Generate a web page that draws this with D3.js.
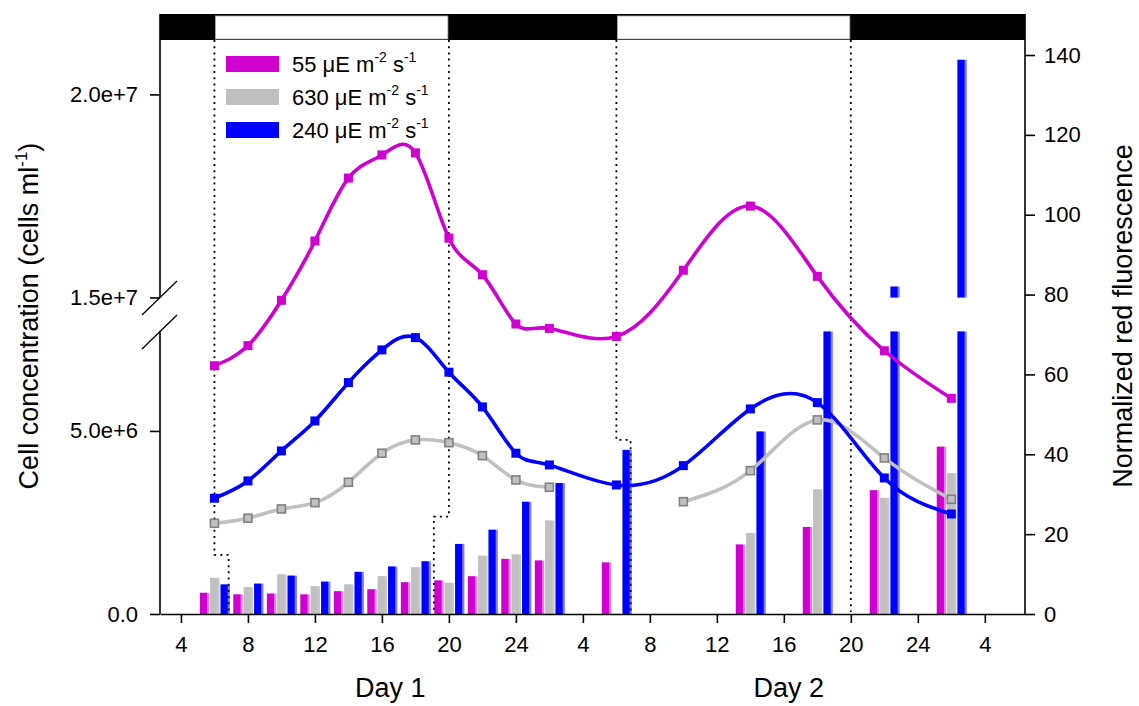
<!DOCTYPE html>
<html><head><meta charset="utf-8">
<script src="https://cdn.jsdelivr.net/npm/d3@7"></script>
<style>body{margin:0;background:#fff} text{font-family:Arial,"Liberation Sans",sans-serif;fill:#000}</style>
</head><body><svg id="c" width="1139" height="706"></svg>
<script>
// ---------- data ----------
const hours   = [6,8,10,12,14,16,18,20,22,24,26,30,34,38,42,46,50];
const cell55  = [6.78e6,7.33e6,1.493e7,1.639e7,1.794e7,1.851e7,1.856e7,1.646e7,1.556e7,7.92e6,7.80e6,7.58e6,1.567e7,1.725e7,1.552e7,7.19e6,5.89e6];
const cell630 = [2.478e6,2.615e6,2.869e6,3.041e6,3.598e6,4.391e6,4.754e6,4.680e6,4.325e6,3.661e6,3.462e6,null,3.068e6,3.915e6,5.301e6,4.262e6,3.134e6];
const cell240 = [3.161e6,3.634e6,4.454e6,5.273e6,6.320e6,7.213e6,7.549e6,6.604e6,5.656e6,4.391e6,4.071e6,3.525e6,4.052e6,5.601e6,5.773e6,3.716e6,2.732e6];

const barHours = [6,8,10,12,14,16,18,20,22,24,26,30,38,42,46,50];
const fluor55  = [5.3,4.9,5.1,4.9,5.7,6.2,7.95,8.4,9.45,13.8,13.4,12.9,17.4,21.8,31,41.9];
const fluor630 = [9.05,6.7,9.9,6.95,7.4,9.45,11.7,7.8,14.6,14.9,23.4,null,20.25,31.2,29.1,35.25];
const fluor240 = [7.4,7.6,9.6,8.1,10.55,11.9,13.2,17.55,21.1,28.1,32.8,41.1,45.7,75,82,138.8];

const seriesNames  = ["55","630","240"];
const seriesColors = ["#d000d0","#c0c0c0","#0000ff"];
const seriesEdge   = ["#e47ce4","#c8c8c8","#8080ff"];

const xTickHours  = [4,8,12,16,20,24,28,32,36,40,44,48,52];
const xTickLabels = ["4","8","12","16","20","24","4","8","12","16","20","24","4"];
const yLTicks     = [0,5e6,1.5e7,2e7];
const yLTickLabels= ["0.0","5.0e+6","1.5e+7","2.0e+7"];
const yRTicks     = [0,20,40,60,80,100,120,140];
const yLBreak     = [8.18e6,1.458e7];  // axis break: lower top / upper bottom
const lightOn  = [6,30];
const lightOff = [20,44];
const dayNames   = ["Day 1","Day 2"];
const dayCenters = [16.5,40.3];
// dotted light-transition guides: [hour, right-axis value] (null = plot top)
const guides = [
  [[6,null],[6,14.8],[6.85,14.8],[6.85,0]],
  [[20,null],[20,24.4],[19.1,24.4],[19.1,0]],
  [[30,null],[30,43.6],[30.85,43.6],[30.85,0]],
  [[44,null],[44,0.5]]
];

// ---------- layout ----------
const L=160,R=1025,T=40,B=614,barTop=14;
const FONT='Arial, Liberation Sans, sans-serif';
const svg=d3.select('#c');
const x=d3.scaleLinear().domain([2.75,54.4]).range([L,R]);
const yL=d3.scaleLinear().domain([0,yLBreak[0],yLBreak[1],2.134e7]).range([B,314.5,314.5,T]);
const yR=d3.scaleLinear().domain([0,140]).range([B,55]);
const gapLoPx=331.5, gapHiPx=297.5;
const gapLo=yR.invert(gapLoPx), gapHi=yR.invert(gapHiPx);

// light/dark bar
svg.append('rect').attr('x',L).attr('y',barTop).attr('width',R-L).attr('height',T-barTop).attr('fill','#000');
lightOn.forEach((s,i)=>{
  svg.append('rect').attr('x',x(s)+1).attr('y',barTop+2).attr('width',x(lightOff[i])-x(s)-2).attr('height',T-barTop-3)
    .attr('fill','#fff').attr('stroke','#aaa').attr('stroke-width',0.8);
});

// bars
const sub=d3.scaleBand().domain(seriesNames).range([-14.5,15.5]).paddingInner(0.1);
const fl=[fluor55,fluor630,fluor240];
const gBars=svg.append('g');
fl.forEach((arr,si)=>{
  barHours.forEach((h,i)=>{
    const v=arr[i]; if(v==null) return;
    const x0=x(h)+sub(seriesNames[si]), w=sub.bandwidth();
    const pieces=[];
    if(v<=gapLo) pieces.push([0,v]);
    else { pieces.push([0,gapLo]); if(v>gapHi) pieces.push([gapHi,v]); }
    pieces.forEach(([a,b])=>{
      gBars.append('rect').attr('x',x0).attr('y',yR(b)).attr('width',w).attr('height',yR(a)-yR(b)).attr('fill',seriesEdge[si]);
      gBars.append('rect').attr('x',x0).attr('y',yR(b)).attr('width',w-2.2).attr('height',yR(a)-yR(b)).attr('fill',seriesColors[si]);
    });
  });
});

// dotted guides
guides.forEach(g=>{
  const pts=g.map(([h,v])=>[x(h), v==null?T:yR(v)]);
  svg.append('path').attr('d',d3.line()(pts)).attr('fill','none').attr('stroke','#000')
    .attr('stroke-width',1.8).attr('stroke-dasharray','2,4.2');
});

// lines
const cells=[cell55,cell630,cell240];
const drawOrder=[1,0,2];
const line=d3.line().defined(d=>d.v!=null).x(d=>x(d.t)).y(d=>yL(d.v)).curve(d3.curveNatural);
drawOrder.forEach(si=>{
  const data=hours.map((t,i)=>({t,v:cells[si][i]}));
  svg.append('path').datum(data).attr('d',line).attr('fill','none').attr('stroke',seriesColors[si]).attr('stroke-width',3.6);
});
drawOrder.forEach(si=>{
  const data=hours.map((t,i)=>({t,v:cells[si][i]})).filter(d=>d.v!=null);
  const s = si===1?8:9;
  svg.append('g').selectAll('rect').data(data).join('rect')
    .attr('x',d=>x(d.t)-s/2).attr('y',d=>yL(d.v)-s/2).attr('width',s).attr('height',s)
    .attr('fill',seriesColors[si]).attr('stroke',si===1?'#808080':'none').attr('stroke-width',1.6);
});

// axes
const ax=svg.append('g').attr('transform',`translate(0,${B})`)
  .call(d3.axisBottom(x).tickValues(xTickHours).tickFormat((d,i)=>xTickLabels[i]).tickSize(9).tickSizeOuter(0).tickPadding(13));
ax.select('.domain').attr('stroke-width',1.6);
ax.selectAll('.tick line').attr('stroke-width',1.6);
ax.selectAll('text').attr('font-size',22).style('font-family',FONT);

const ayl=svg.append('g').attr('transform',`translate(${L},0)`)
  .call(d3.axisLeft(yL).tickValues(yLTicks).tickFormat((d,i)=>yLTickLabels[i]).tickSize(10).tickPadding(12));
ayl.select('.domain').remove();
ayl.selectAll('.tick line').attr('stroke-width',1.6);
ayl.selectAll('text').attr('font-size',22).style('font-family',FONT);
svg.append('line').attr('x1',L).attr('x2',L).attr('y1',barTop).attr('y2',gapHiPx).attr('stroke','#000').attr('stroke-width',1.6);
svg.append('line').attr('x1',L).attr('x2',L).attr('y1',gapLoPx).attr('y2',B).attr('stroke','#000').attr('stroke-width',1.6);
[gapHiPx,gapLoPx].forEach(yy=>{
  svg.append('line').attr('x1',L-18).attr('y1',yy+17.5).attr('x2',L+17).attr('y2',yy-16.5).attr('stroke','#000').attr('stroke-width',1.3);
});

const ayr=svg.append('g').attr('transform',`translate(${R},0)`)
  .call(d3.axisRight(yR).tickValues(yRTicks).tickSize(10).tickPadding(9).tickSizeOuter(0));
ayr.select('.domain').attr('d',`M0,${barTop}V${B}`).attr('stroke-width',1.6);
ayr.selectAll('.tick line').attr('stroke-width',1.6);
ayr.selectAll('text').attr('font-size',22).style('font-family',FONT);

// day labels
dayNames.forEach((n,i)=>svg.append('text').attr('x',x(dayCenters[i])).attr('y',697).attr('text-anchor','middle').attr('font-size',27).text(n));

// axis titles
const lt=svg.append('text').attr('transform','translate(38,316) rotate(-90)').attr('text-anchor','middle').attr('font-size',27);
lt.append('tspan').text('Cell concentration (cells ml');
lt.append('tspan').attr('font-size',17).attr('dy',-11).text('-1');
lt.append('tspan').attr('dy',11).text(')');
svg.append('text').attr('transform','translate(1132,316) rotate(-90)').attr('text-anchor','middle').attr('font-size',27).text('Normalized red fluorescence');

// legend
const legY=[64,97,130];
[0,1,2].forEach(i=>{
  svg.append('rect').attr('x',226).attr('y',legY[i]-8).attr('width',53).attr('height',16).attr('fill',seriesColors[i]);
  const t=svg.append('text').attr('x',292).attr('y',legY[i]+8).attr('font-size',22);
  t.append('tspan').text(seriesNames[i]+' μE m');
  t.append('tspan').attr('font-size',14).attr('dy',-10).text('-2');
  t.append('tspan').attr('dy',10).text(' s');
  t.append('tspan').attr('font-size',14).attr('dy',-10).text('-1');
});
</script></body></html>
